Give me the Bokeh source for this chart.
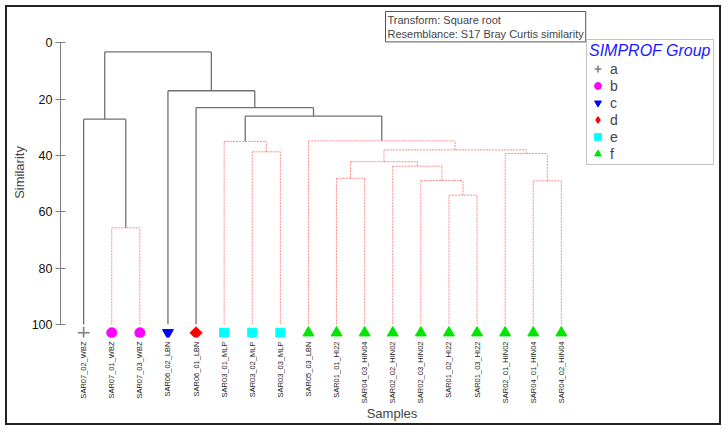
from math import pi
from bokeh.plotting import figure
from bokeh.models import (Range1d, FixedTicker, Label, Legend, LegendItem,
                          ColumnDataSource)
from bokeh.embed import file_html
from bokeh.resources import INLINE

# ---------------- data ----------------
samples = ["SAR07_02_WBZ", "SAR07_01_WBZ", "SAR07_03_WBZ", "SAR06_02_LBN",
           "SAR06_01_LBN", "SAR03_01_MLP", "SAR03_02_MLP", "SAR03_03_MLP",
           "SAR05_03_LBN", "SAR01_01_HI22", "SAR04_03_HIN04", "SAR02_02_HIN02",
           "SAR02_03_HIN02", "SAR01_02_HI22", "SAR01_03_HI22", "SAR02_01_HIN02",
           "SAR04_01_HIN04", "SAR04_02_HIN04"]
sample_groups = ["a", "b", "b", "c", "d", "e", "e", "e", "f", "f", "f", "f",
                 "f", "f", "f", "f", "f", "f"]

group_names = ["a", "b", "c", "d", "e", "f"]
group_markers = ["cross", "circle", "inverted_triangle", "square", "square", "triangle"]
group_angles = [0, 0, 0, pi / 4, 0, 0]
legend_markers = ["cross", "circle", "inverted_triangle", "diamond", "square", "triangle"]
group_colors = ["#808080", "#ff00ff", "#0000ff", "#ff0000", "#00ffff", "#00e600"]
group_sizes = [12, 10, 11, 8.5, 9, 11]

# merges: children are leaf indices (0..17) or node ids (18 + merge index)
merge_left = [1, 0, 6, 5, 13, 12, 11, 9, 25, 16, 15, 26, 8, 21, 4, 3, 19]
merge_right = [2, 18, 7, 20, 14, 22, 23, 10, 24, 17, 27, 28, 29, 30, 31, 32, 33]
merge_sim = [65.7, 27.1, 38.7, 35.0, 54.1, 48.9, 43.8, 48.1, 42.2, 49.0, 39.3,
             38.0, 34.8, 26.0, 23.0, 17.0, 3.2]
merge_signif = [False, True, False, False, False, False, False, False, False,
                False, False, False, False, True, True, True, True]

y_ticks = [0, 20, 40, 60, 80, 100]
leaf_sim = 100
marker_sim = 103

# ---------------- figure ----------------
p = figure(width=712, height=416, output_backend="svg", toolbar_location=None,
           x_range=Range1d(0.1765, 23.77), y_range=Range1d(104.68, -12.59),
           min_border_left=53, min_border_right=0, min_border_top=0,
           min_border_bottom=90)
p.margin = (5, 0, 0, 5)
p.styles = {"border": "2px solid #222222", "box-sizing": "content-box"}
p.outline_line_color = None
p.grid.visible = False
p.background_fill_color = "white"
p.border_fill_color = "white"

# dendrogram segments
n = len(samples)
pos = {i: i + 1 for i in range(n)}
hgt = {i: leaf_sim for i in range(n)}
seg = {True: dict(xs=[], ys=[]), False: dict(xs=[], ys=[])}
for k, (l, r, h, s) in enumerate(zip(merge_left, merge_right, merge_sim, merge_signif)):
    node = n + k
    pos[node] = (pos[l] + pos[r]) / 2
    hgt[node] = h
    seg[s]["xs"].append([pos[l], pos[r]])
    seg[s]["ys"].append([h, h])
    for c in (l, r):
        seg[s]["xs"].append([pos[c], pos[c]])
        seg[s]["ys"].append([hgt[c], h])

p.multi_line(xs=seg[False]["xs"], ys=seg[False]["ys"], line_color="#ff5a5a",
             line_width=1, line_dash="2 1", line_alpha=0.7)
p.multi_line(xs=seg[True]["xs"], ys=seg[True]["ys"], line_color="#707070",
             line_width=1.3)

# leaf markers
items = []
for g, m, a, lm, c, sz in zip(group_names, group_markers, group_angles,
                              legend_markers, group_colors, group_sizes):
    xs = [i + 1 for i, gg in enumerate(sample_groups) if gg == g]
    src = ColumnDataSource(dict(x=xs, y=[marker_sim] * len(xs)))
    if m == "cross":
        r = p.scatter("x", "y", source=src, marker=m, size=sz, line_color=c,
                      line_width=1.6)
    else:
        r = p.scatter("x", "y", source=src, marker=m, size=sz, angle=a,
                      fill_color=c, line_color=c)
    if lm != m:
        # legend-only glyph (its point is not drawn: y is NaN)
        r = p.scatter(x=[xs[0]], y=[float("nan")], marker=lm, size=sz,
                      fill_color=c, line_color=c)
    items.append(LegendItem(label=g, renderers=[r]))

# axes
font = "Liberation Sans"
yax = p.yaxis[0]
yax.bounds = (0, 100)
yax.ticker = FixedTicker(ticks=y_ticks)
yax.minor_tick_line_color = None
yax.major_tick_in = 5
yax.major_tick_out = 5
yax.axis_line_color = "#808080"
yax.major_tick_line_color = "#808080"
yax.major_label_text_font = font
yax.major_label_text_font_size = "12.5px"
yax.major_label_text_color = "#111111"
yax.major_label_standoff = 3
yax.axis_label = "Similarity"
yax.axis_label_text_font = font
yax.axis_label_text_font_size = "13px"
yax.axis_label_text_font_style = "normal"
yax.axis_label_standoff = 2

xax = p.xaxis[0]
xax.ticker = FixedTicker(ticks=[i + 1 for i in range(n)])
xax.major_label_overrides = {i + 1: s for i, s in enumerate(samples)}
xax.major_label_orientation = pi / 2
xax.axis_line_color = None
xax.major_tick_line_color = None
xax.minor_tick_line_color = None
xax.major_tick_out = 0
xax.major_label_standoff = 4
xax.major_label_text_font = font
xax.major_label_text_font_size = "7.5px"
xax.major_label_text_color = "#222222"
xax.axis_label = "Samples"
xax.axis_label_text_font = font
xax.axis_label_text_font_size = "13px"
xax.axis_label_text_font_style = "normal"
xax.axis_label_standoff = 0

# legend
legend = Legend(items=items, location=(526, 172), title="SIMPROF Group",
                title_text_color="#1a1aff", title_text_font_style="italic",
                title_text_font=font, title_text_font_size="16px",
                title_standoff=0,
                label_text_font=font, label_text_font_size="14px",
                label_standoff=4, glyph_height=17, glyph_width=17,
                label_height=17, spacing=0, padding=2, margin=0,
                border_line_color="#888888", border_line_width=1,
                background_fill_color="white")
p.add_layout(legend, "center")

# info box
info = Label(x=325, y=326, x_units="screen", y_units="screen",
             text="Transform: Square root\nResemblance: S17 Bray Curtis similarity",
             text_font=font, text_font_size="11px", text_align="left",
             text_baseline="top", padding=2, border_line_color="#555555",
             border_line_width=1, background_fill_color="white")
p.add_layout(info)

open("out.html", "w").write(file_html(p, INLINE))
